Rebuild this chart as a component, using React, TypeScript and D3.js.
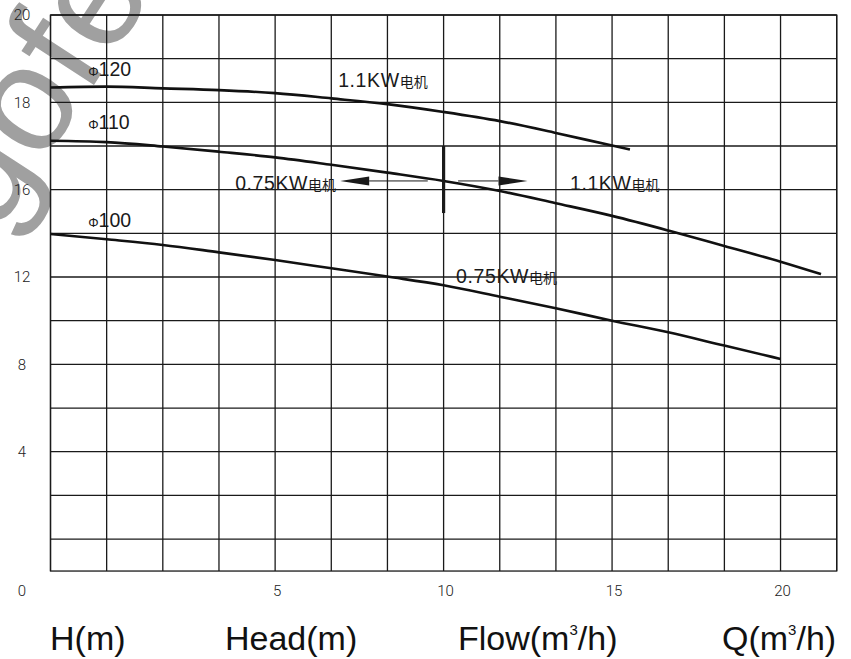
import React from 'react';
import * as d3 from 'd3';

// pump curves: flow Q (m³/h) -> head H (m)
const flowPoints = [0, 1.25, 2.5, 3.75, 5, 6.67, 8.33, 10, 11.67, 13.33, 15, 16.67, 18.33, 20];

const head120 = [18.34, 18.36, 18.32, 18.28, 18.21, 18.09, 17.96, 17.78, 17.57, 17.3, 17.01];
const head120End = { q: 15.53, h: 16.92 };
const head110 = [17.12, 17.09, 16.99, 16.87, 16.74, 16.57, 16.39, 16.2, 15.94, 15.38, 14.8, 14.13, 13.42, 12.7];
const head110End = { q: 21.2, h: 12.13 };
const head100 = [13.97, 13.73, 13.47, 13.13, 12.78, 12.4, 12.02, 11.62, 11.1, 10.57, 10.0, 9.47, 8.86, 8.25];

const xTicks = [5, 10, 15, 20];
const yTicks = [20, 18, 16, 12, 8, 4];
const yGrid = [0, 2, 4, 6, 8, 10, 12, 14, 16, 17, 18, 19, 20];
const xGrid = [...d3.range(0, 5, 1.25), ...d3.range(5, 21.7, 5 / 3)];

// annotation anchors (data space)
const diameterLabels = [
  { text: '120', q: 0.84, h: 18.6 },
  { text: '110', q: 0.84, h: 17.4 },
  { text: '100', q: 0.84, h: 14.3 },
];
const powerLabels = [
  { kw: '1.1KW', q: 6.87, h: 18.35 },
  { kw: '0.75KW', q: 4.11, h: 16.0 },
  { kw: '1.1KW', q: 13.75, h: 16.0 },
  { kw: '0.75KW', q: 10.37, h: 11.71 },
];
const splitFlow = 10;
const splitRange = [14.93, 17.0];
const arrowHead = 16.2;
const arrowLeft = { from: 9.53, to: 6.93 };
const arrowRight = { from: 10.43, to: 12.49 };

const W = 851;
const H = 659;
const left = 50.5;
const right = 836.7;
const top = 15;
const rowH = 43.67;
const colW = (right - left) / 14;
const bottom = top + 12 * rowH + 32;

const x = d3.scaleLinear().domain([0, 5, 65 / 3]).range([left, left + 4 * colW, right]);
const y = d3
  .scaleLinear()
  .domain([-1.47, 0, 16, 20])
  .range([bottom, top + 12 * rowH, top + 4 * rowH, top]);

const line = d3
  .line<[number, number]>()
  .x((d) => x(d[0]))
  .y((d) => y(d[1]))
  .curve(d3.curveMonotoneX);

const toPts = (heads: number[], end?: { q: number; h: number }) => {
  const pts: [number, number][] = heads.map((h, i) => [flowPoints[i], h]);
  if (end) pts.push([end.q, end.h]);
  return pts;
};

const curves = [toPts(head120, head120End), toPts(head110, head110End), toPts(head100)];

const tickFont = 'Roboto, "DejaVu Sans", sans-serif';
const labelFont = '"Liberation Sans", Arial, sans-serif';
const ink = '#1a1a1a';

const Arrow: React.FC<{ from: number; to: number }> = ({ from, to }) => {
  const yy = y(arrowHead);
  const x1 = x(from);
  const x2 = x(to);
  const dir = Math.sign(x2 - x1);
  const headLen = 29;
  const base = x2 - dir * headLen;
  return (
    <g>
      <line x1={x1} y1={yy} x2={base} y2={yy} stroke={ink} strokeWidth={1} />
      <path d={`M${x2},${yy} L${base},${yy - 4.5} L${base},${yy + 4.5} Z`} fill={ink} />
    </g>
  );
};

export default function App() {
  return (
    <svg
      width={W}
      height={H}
      viewBox={`0 0 ${W} ${H}`}
      style={{ display: 'block', position: 'absolute', left: 0, top: 0, background: '#fff' }}
    >
      <rect width={W} height={H} fill="#fff" />
      {/* watermark */}
      <text
        transform="translate(-4,236) rotate(-57)"
        fontFamily={labelFont}
        fontSize={150}
        fill="#a0a0a0"
      >
        gofe
      </text>
      {/* grid */}
      <g stroke={ink} strokeWidth={1.3}>
        {yGrid.map((v) => (
          <line key={`h${v}`} x1={left} x2={right} y1={y(v)} y2={y(v)} />
        ))}
        {xGrid.map((v, i) => (
          <line key={`v${i}`} x1={x(v)} x2={x(v)} y1={top} y2={bottom} />
        ))}
        <rect x={left} y={top} width={right - left} height={bottom - top} fill="none" />
      </g>
      {/* curves */}
      <g fill="none" stroke="#111" strokeWidth={2.6}>
        {curves.map((c, i) => (
          <path key={i} d={line(c) ?? ''} />
        ))}
      </g>
      {/* split marker and arrows */}
      <line
        x1={x(splitFlow)}
        x2={x(splitFlow)}
        y1={y(splitRange[1])}
        y2={y(splitRange[0])}
        stroke={ink}
        strokeWidth={3.2}
      />
      <Arrow from={arrowLeft.from} to={arrowLeft.to} />
      <Arrow from={arrowRight.from} to={arrowRight.to} />
      {/* diameter labels */}
      {diameterLabels.map((d) => (
        <text key={d.text} x={x(d.q)} y={y(d.h)} fontFamily={labelFont} fill={ink}>
          <tspan fontSize={13}>Φ</tspan>
          <tspan fontSize={19.5}>{d.text}</tspan>
        </text>
      ))}
      {/* motor labels */}
      {powerLabels.map((d, i) => (
        <text key={i} x={x(d.q)} y={y(d.h)} fontFamily={labelFont} fill={ink}>
          <tspan fontSize={19.5} letterSpacing={0.6}>{d.kw}</tspan>
          <tspan fontSize={14} fontFamily='"Noto Sans CJK SC", sans-serif'>电机</tspan>
        </text>
      ))}
      {/* y ticks */}
      {yTicks.map((v) => (
        <text
          key={`yt${v}`}
          x={22}
          y={y(v)}
          dy="0.35em"
          textAnchor="middle"
          fontFamily={tickFont}
          fontWeight={300}
          fontSize={15}
          fill="#222"
        >
          {v}
        </text>
      ))}
      <text x={22} y={591} dy="0.35em" textAnchor="middle" fontFamily={tickFont} fontWeight={300} fontSize={15} fill="#222">
        0
      </text>
      {/* x ticks */}
      {xTicks.map((v) => (
        <text
          key={`xt${v}`}
          x={x(v) + 2}
          y={591}
          dy="0.35em"
          textAnchor="middle"
          fontFamily={tickFont}
          fontWeight={300}
          fontSize={15}
          fill="#222"
        >
          {v}
        </text>
      ))}
      {/* axis titles */}
      <g fontFamily={labelFont} fontSize={34} fill="#111">
        <text x={50} y={650}>H(m)</text>
        <text x={225} y={650}>Head(m)</text>
        <text x={458} y={650}>
          Flow(m<tspan fontSize={15} dy={-15}>3</tspan>
          <tspan dy={15}>/h)</tspan>
        </text>
        <text x={722} y={650}>
          Q(m<tspan fontSize={15} dy={-15}>3</tspan>
          <tspan dy={15}>/h)</tspan>
        </text>
      </g>
    </svg>
  );
}
